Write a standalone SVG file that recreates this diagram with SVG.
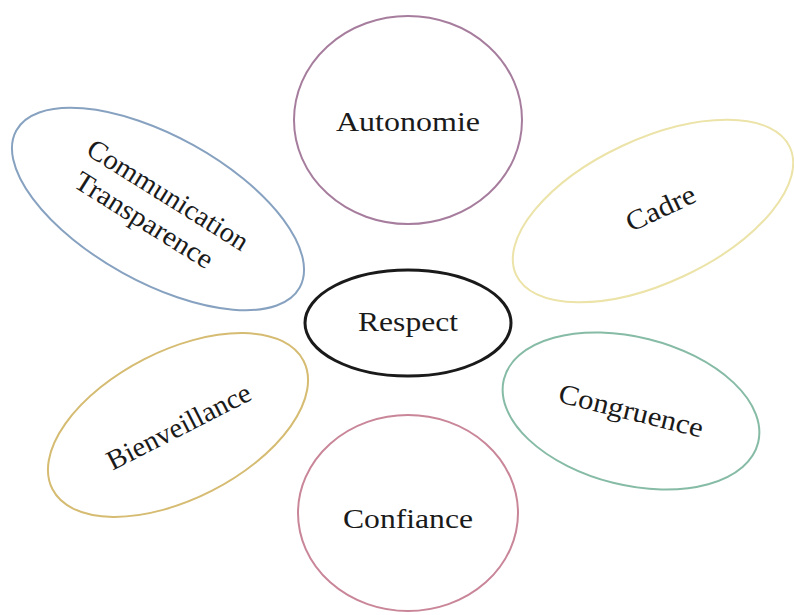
<svg xmlns="http://www.w3.org/2000/svg" width="794" height="615" viewBox="0 0 794 615">
<style>
.shape{fill:#ffffff;stroke-width:2}
.lbl{font-family:"Liberation Serif","Times New Roman",serif;font-size:27px;fill:#1a1a1a;text-anchor:middle}
.rot{font-size:28px}
</style>
<rect width="794" height="615" fill="#ffffff"/>
<g id="connectors"></g>
<g id="autonomie">
<ellipse class="shape" cx="408" cy="120" rx="114" ry="104" stroke="#a77d9e"/>
<text class="lbl" x="408" y="131" textLength="144" lengthAdjust="spacingAndGlyphs">Autonomie</text>
</g>
<g id="communication" transform="translate(158,209) rotate(29)">
<ellipse class="shape" cx="0" cy="0" rx="162" ry="73" stroke="#87a2c0"/>
<g transform="rotate(3)">
<text class="lbl rot" x="1" y="-8" textLength="185" lengthAdjust="spacingAndGlyphs">Communication</text>
<text class="lbl rot" x="-6" y="26" textLength="158" lengthAdjust="spacingAndGlyphs">Transparence</text>
</g>
</g>
<g id="cadre" transform="translate(653,211) rotate(-25)">
<ellipse class="shape" cx="0" cy="0" rx="151" ry="72" stroke="#ece3a8"/>
<text class="lbl rot" x="8" y="10" textLength="74" lengthAdjust="spacingAndGlyphs">Cadre</text>
</g>
<g id="respect">
<ellipse cx="408" cy="323" rx="103" ry="53" fill="#ffffff" stroke="#1a1a1a" stroke-width="3"/>
<text class="lbl" x="408" y="331" textLength="100" lengthAdjust="spacingAndGlyphs">Respect</text>
</g>
<g id="bienveillance" transform="translate(178,425) rotate(-27)">
<ellipse class="shape" cx="0" cy="0" rx="141" ry="74" stroke="#d6bc72"/>
<text class="lbl rot" x="0" y="11" textLength="158" lengthAdjust="spacingAndGlyphs">Bienveillance</text>
</g>
<g id="congruence" transform="translate(631,411) rotate(14)">
<ellipse class="shape" cx="0" cy="0" rx="131" ry="74" stroke="#86bba6"/>
<text class="lbl rot" x="0" y="9" textLength="148" lengthAdjust="spacingAndGlyphs">Congruence</text>
</g>
<g id="confiance">
<ellipse class="shape" cx="408" cy="513" rx="110" ry="98" stroke="#c98699"/>
<text class="lbl" x="408" y="528" textLength="130" lengthAdjust="spacingAndGlyphs">Confiance</text>
</g>
</svg>
